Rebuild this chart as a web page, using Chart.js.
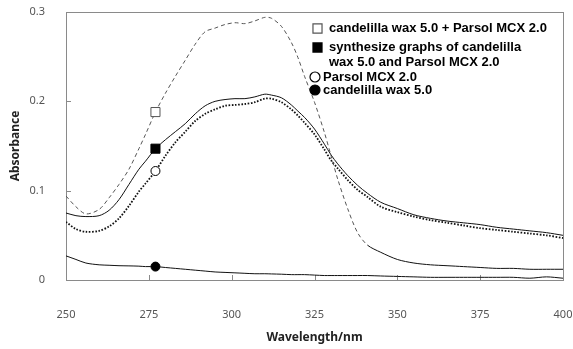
<!DOCTYPE html>
<html>
<head>
<meta charset="utf-8">
<script src="https://cdn.jsdelivr.net/npm/chart.js@4.4.1/dist/chart.umd.min.js"></script>
<style>
  html, body { margin: 0; padding: 0; background: #fff; }
  #wrap { width: 573px; height: 349px; }
</style>
</head>
<body>
<div id="wrap"><canvas id="myChart" width="573" height="349"></canvas></div>
<script>
// 1. Data
const wavelength = [250, 253, 256, 260, 263, 266, 269, 272, 274, 277, 280, 283, 286, 289, 292, 295, 298, 301, 304, 307,
  310, 312, 315, 318, 320, 322, 325, 328, 330, 332, 335, 338, 341, 345, 350, 355, 360, 365, 370, 375, 380, 385, 390, 395, 400];

const waxPlusParsol = [0.094, 0.082, 0.074, 0.079, 0.092, 0.107, 0.124, 0.147, 0.163, 0.188, 0.209, 0.228, 0.246, 0.264, 0.278, 0.282, 0.286, 0.288, 0.287, 0.290,
  0.294, 0.293, 0.284, 0.266, 0.249, 0.228, 0.199, 0.165, 0.139, 0.113, 0.080, 0.053, 0.039, 0.031, 0.023, 0.019, 0.017, 0.016, 0.015, 0.014, 0.013, 0.013, 0.012, 0.012, 0.012];

const synthesized = [0.075, 0.072, 0.071, 0.072, 0.078, 0.090, 0.107, 0.124, 0.133, 0.147, 0.157, 0.166, 0.175, 0.186, 0.195, 0.200, 0.202, 0.203, 0.203, 0.205,
  0.208, 0.207, 0.204, 0.196, 0.189, 0.182, 0.169, 0.152, 0.140, 0.130, 0.117, 0.106, 0.097, 0.087, 0.080, 0.073, 0.069, 0.066, 0.064, 0.062, 0.059, 0.057, 0.055, 0.053, 0.050];

const parsol = [0.065, 0.057, 0.054, 0.055, 0.060, 0.069, 0.083, 0.099, 0.108, 0.122, 0.139, 0.154, 0.166, 0.178, 0.186, 0.191, 0.195, 0.196, 0.197, 0.199,
  0.203, 0.203, 0.199, 0.191, 0.184, 0.176, 0.163, 0.146, 0.134, 0.125, 0.112, 0.101, 0.093, 0.082, 0.076, 0.071, 0.067, 0.064, 0.061, 0.058, 0.056, 0.054, 0.052, 0.050, 0.047];

const candelilla = [0.027, 0.023, 0.019, 0.017, 0.0165, 0.016, 0.0158, 0.0155, 0.015, 0.015, 0.014, 0.013, 0.012, 0.011, 0.010, 0.009, 0.0085, 0.008, 0.0075, 0.007,
  0.007, 0.0068, 0.0065, 0.006, 0.006, 0.006, 0.0055, 0.005, 0.005, 0.005, 0.005, 0.005, 0.005, 0.0045, 0.004, 0.0035, 0.003, 0.003, 0.003, 0.003, 0.003, 0.003, 0.002, 0.0035, 0.002];

const seriesLabels = [
  'candelilla wax 5.0 + Parsol MCX 2.0',
  'synthesize graphs of candelilla\nwax 5.0 and Parsol MCX 2.0',
  'Parsol MCX 2.0',
  'candelilla wax 5.0'
];
const xTicks = [250, 275, 300, 325, 350, 375, 400];
const yTicks = [0, 0.1, 0.2, 0.3];
const markAt = 277; // wavelength where each curve carries its marker

// 2. Build points
const toPoints = vals => wavelength.map((w, i) => ({ x: w, y: vals[i] }));
const markIdx = wavelength.indexOf(markAt);

// 3. Marker styles for each series (line + legend)
const markers = [
  { style: 'rect', fill: '#fff', stroke: '#555', r: 6.4 },
  { style: 'rect', fill: '#000', stroke: '#000', r: 6.4 },
  { style: 'circle', fill: '#fff', stroke: '#000', r: 4.5 },
  { style: 'circle', fill: '#000', stroke: '#000', r: 4.5 }
];

function makeSet(i, vals, extra) {
  const m = markers[i];
  return Object.assign({
    label: seriesLabels[i],
    data: toPoints(vals),
    borderWidth: 1,
    tension: 0.3,
    pointStyle: m.style,
    pointRadius: ctx => ctx.dataIndex === markIdx ? m.r : 0,
    pointHoverRadius: 0,
    pointBackgroundColor: m.fill,
    pointBorderColor: m.stroke,
    pointBorderWidth: 1
  }, extra);
}

const datasets = [
  makeSet(0, waxPlusParsol, {
    borderColor: '#555',
    borderDash: [4, 3],
    segment: {
      borderDash: ctx => ctx.p0.parsed.x >= 341 ? [] : [4, 3],
      borderColor: ctx => ctx.p0.parsed.x >= 341 ? '#111' : '#555'
    }
  }),
  makeSet(1, synthesized, { borderColor: '#111' }),
  makeSet(2, parsol, { borderColor: '#111', borderWidth: 1.8, borderDash: [1.6, 1.6] }),
  makeSet(3, candelilla, { borderColor: '#111' })
];

// 4. Frame, inside ticks and legend
const framePlugin = {
  id: 'frame',
  beforeDatasetsDraw(chart) {
    const { ctx, chartArea: a, scales } = chart;
    ctx.save();
    ctx.strokeStyle = '#8a8a8a';
    ctx.lineWidth = 1;
    ctx.strokeRect(Math.round(a.left) + 0.5, Math.round(a.top) + 0.5, Math.round(a.right - a.left), Math.round(a.bottom - a.top));
    ctx.beginPath();
    xTicks.forEach(v => {
      const x = Math.round(scales.x.getPixelForValue(v)) + 0.5;
      ctx.moveTo(x, a.bottom);
      ctx.lineTo(x, a.bottom - 5);
    });
    yTicks.forEach(v => {
      const y = Math.round(scales.y.getPixelForValue(v)) + 0.5;
      ctx.moveTo(a.left, y);
      ctx.lineTo(a.left + 5, y);
    });
    ctx.stroke();
    ctx.restore();
  },
  afterDraw(chart) {
    const ctx = chart.ctx;
    const rows = [[28], [47, 62], [77], [90]];
    const markX = [317, 317, 315, 315];
    const textX = [329, 329, 323, 323];
    const legendR = [6.4, 6.4, 5, 5];
    ctx.save();
    ctx.font = 'bold 13px "Liberation Sans", Arial, sans-serif';
    ctx.fillStyle = '#000';
    ctx.textBaseline = 'middle';
    seriesLabels.forEach((label, i) => {
      const m = markers[i];
      const y0 = rows[i][0];
      ctx.beginPath();
      if (m.style === 'rect') {
        const s = legendR[i] * Math.SQRT1_2;
        ctx.rect(markX[i] - s + 0.5, y0 - s + 0.5, 2 * s, 2 * s);
      } else {
        ctx.arc(markX[i], y0, legendR[i], 0, Math.PI * 2);
      }
      ctx.fillStyle = m.fill;
      ctx.fill();
      ctx.strokeStyle = m.stroke;
      ctx.lineWidth = 1.2;
      ctx.stroke();
      ctx.fillStyle = '#000';
      label.split('\n').forEach((line, k) => ctx.fillText(line, textX[i], rows[i][k]));
    });
    ctx.restore();
  }
};

// 5. Chart
const ctx = document.getElementById('myChart').getContext('2d');
const myChart = new Chart(ctx, {
  type: 'line',
  data: { datasets },
  options: {
    responsive: false,
    devicePixelRatio: 1,
    animation: false,
    layout: { padding: { top: 12, right: 10, left: 0, bottom: 0 } },
    plugins: { legend: { display: false }, tooltip: { enabled: false } },
    scales: {
      x: {
        type: 'linear',
        min: 250,
        max: 400,
        afterBuildTicks: s => { s.ticks = xTicks.map(v => ({ value: v })); },
        afterFit: s => { s.height = 69; s.paddingLeft = 0; s.paddingRight = 0; },
        grid: { display: false },
        border: { display: false },
        ticks: { padding: 20, color: '#555', font: { family: '"Noto Sans", sans-serif', size: 11 }, maxRotation: 0 },
        title: { display: true, text: 'Wavelength/nm', color: '#222', font: { family: '"Noto Sans", sans-serif', size: 12, weight: 'bold' }, padding: { top: 0, bottom: 4 } }
      },
      y: {
        min: 0,
        max: 0.3,
        afterBuildTicks: s => { s.ticks = yTicks.map(v => ({ value: v })); },
        afterFit: s => { s.width = 66; s.paddingTop = 0; s.paddingBottom = 0; },
        grid: { display: false },
        border: { display: false },
        ticks: { padding: 13, color: '#555', font: { family: '"Noto Sans", sans-serif', size: 11 }, callback: v => String(Math.round(v * 10) / 10) },
        title: { display: true, text: 'Absorbance', color: '#222', font: { family: '"Noto Sans", sans-serif', size: 12, weight: 'bold' }, padding: { top: 8, bottom: 0 } }
      }
    }
  },
  plugins: [framePlugin]
});
</script>
</body>
</html>
